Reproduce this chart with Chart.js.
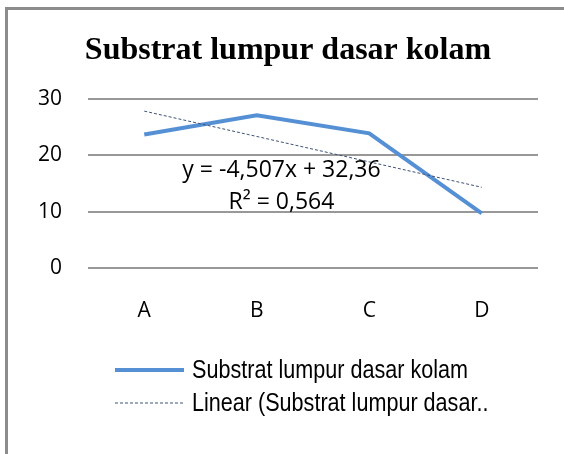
<!DOCTYPE html>
<html>
<head>
<meta charset="utf-8">
<script src="https://cdn.jsdelivr.net/npm/chart.js@4/dist/chart.umd.min.js"></script>
<style>
  html, body { margin: 0; padding: 0; background: #fff; }
  #wrap { position: relative; width: 564px; height: 454px; overflow: hidden; }
  #frame { position: absolute; left: 5px; top: 7px; width: 600px; height: 500px;
           border-left: 3px solid #8c8c8c; border-top: 3px solid #8c8c8c; }
  canvas { position: absolute; left: 0; top: 0; }
</style>
</head>
<body>
<div id="wrap">
  <div id="frame"></div>
  <canvas id="myChart" width="564" height="454"></canvas>
</div>
<script>
const chartTitle = 'Substrat lumpur dasar kolam';
const categories = ['A', 'B', 'C', 'D'];
const seriesName = 'Substrat lumpur dasar kolam';
const seriesValues = [23.7, 27.1, 23.9, 9.7];
const trendName = 'Linear (Substrat lumpur dasar..';
const trendValues = [27.85, 23.35, 18.84, 14.33];
const equationLines = ['y = -4,507x + 32,36', 'R\u00b2 = 0,564'];
const yTicks = [0, 10, 20, 30];

const tickFont = "'Open Sans', sans-serif";
const legendFont = "'Liberation Sans', Arial, sans-serif";

// title, equation text and legend drawn by hand
const extras = {
    id: 'extras',
    afterDraw(chart) {
        const c = chart.ctx;
        const xs = chart.scales.x;
        const ys = chart.scales.y;
        c.save();
        c.fillStyle = '#000';
        c.textAlign = 'center';
        c.textBaseline = 'middle';
        c.font = "bold 32px 'Liberation Serif', serif";
        c.fillText(chartTitle, 288, 51);

        c.font = "23px " + tickFont;
        const step = xs.getPixelForValue(2) - xs.getPixelForValue(1);
        const ex = xs.getPixelForValue(1) + 0.22 * step;
        c.fillText(equationLines[0], ex, ys.getPixelForValue(17.3));
        c.fillText(equationLines[1], ex, ys.getPixelForValue(11.6));

        // legend, narrow text like Arial Narrow
        const ds = chart.data.datasets;
        c.font = "25px " + legendFont;
        const sx = 276 / c.measureText(ds[0].label).width;
        ds.forEach((d, i) => {
            const y = 370 + i * 33;
            c.beginPath();
            c.strokeStyle = d.borderColor;
            c.lineWidth = d.borderWidth;
            c.setLineDash(d.borderDash || []);
            c.moveTo(115, y);
            c.lineTo(184, y);
            c.stroke();
            c.setLineDash([]);
            c.save();
            c.translate(192, y + 1);
            c.scale(sx, 1);
            c.textAlign = 'left';
            c.fillText(d.label, 0, 0);
            c.restore();
        });
        c.restore();
    }
};

const ctx = document.getElementById('myChart').getContext('2d');
const myChart = new Chart(ctx, {
    type: 'line',
    data: {
        labels: categories,
        datasets: [
        {
            label: seriesName,
            data: seriesValues,
            borderColor: '#5590d4',
            borderWidth: 4,
            pointRadius: 0,
            tension: 0,
            order: 2
        },
        {
            label: trendName,
            data: trendValues,
            borderColor: '#3d5274',
            borderWidth: 1,
            borderDash: [3, 2],
            pointRadius: 0,
            tension: 0,
            order: 1
        }
    ]
    },
    options: {
        responsive: false,
        animation: false,
        layout: {
            padding: { left: 28, right: 26, top: 99, bottom: 116 }
        },
        plugins: {
            legend: { display: false },
            title: { display: false },
            tooltip: { enabled: false }
        },
        scales: {
            x: {
                offset: true,
                grid: { display: false, drawTicks: false },
                border: { display: false },
                ticks: { color: '#000', padding: 30, font: { family: tickFont, size: 21 } },
                afterFit: (s) => { s.height = 70; }
            },
            y: {
                min: 0,
                max: 30,
                afterBuildTicks: (s) => { s.ticks = yTicks.map(v => ({ value: v })); },
                grid: { color: '#989898', lineWidth: 2, drawTicks: false },
                border: { display: false },
                ticks: { color: '#000', padding: 26, font: { family: tickFont, size: 21 } },
                afterFit: (s) => { s.width = 60; }
            }
        }
    },
    plugins: [extras]
});
</script>
</body>
</html>
